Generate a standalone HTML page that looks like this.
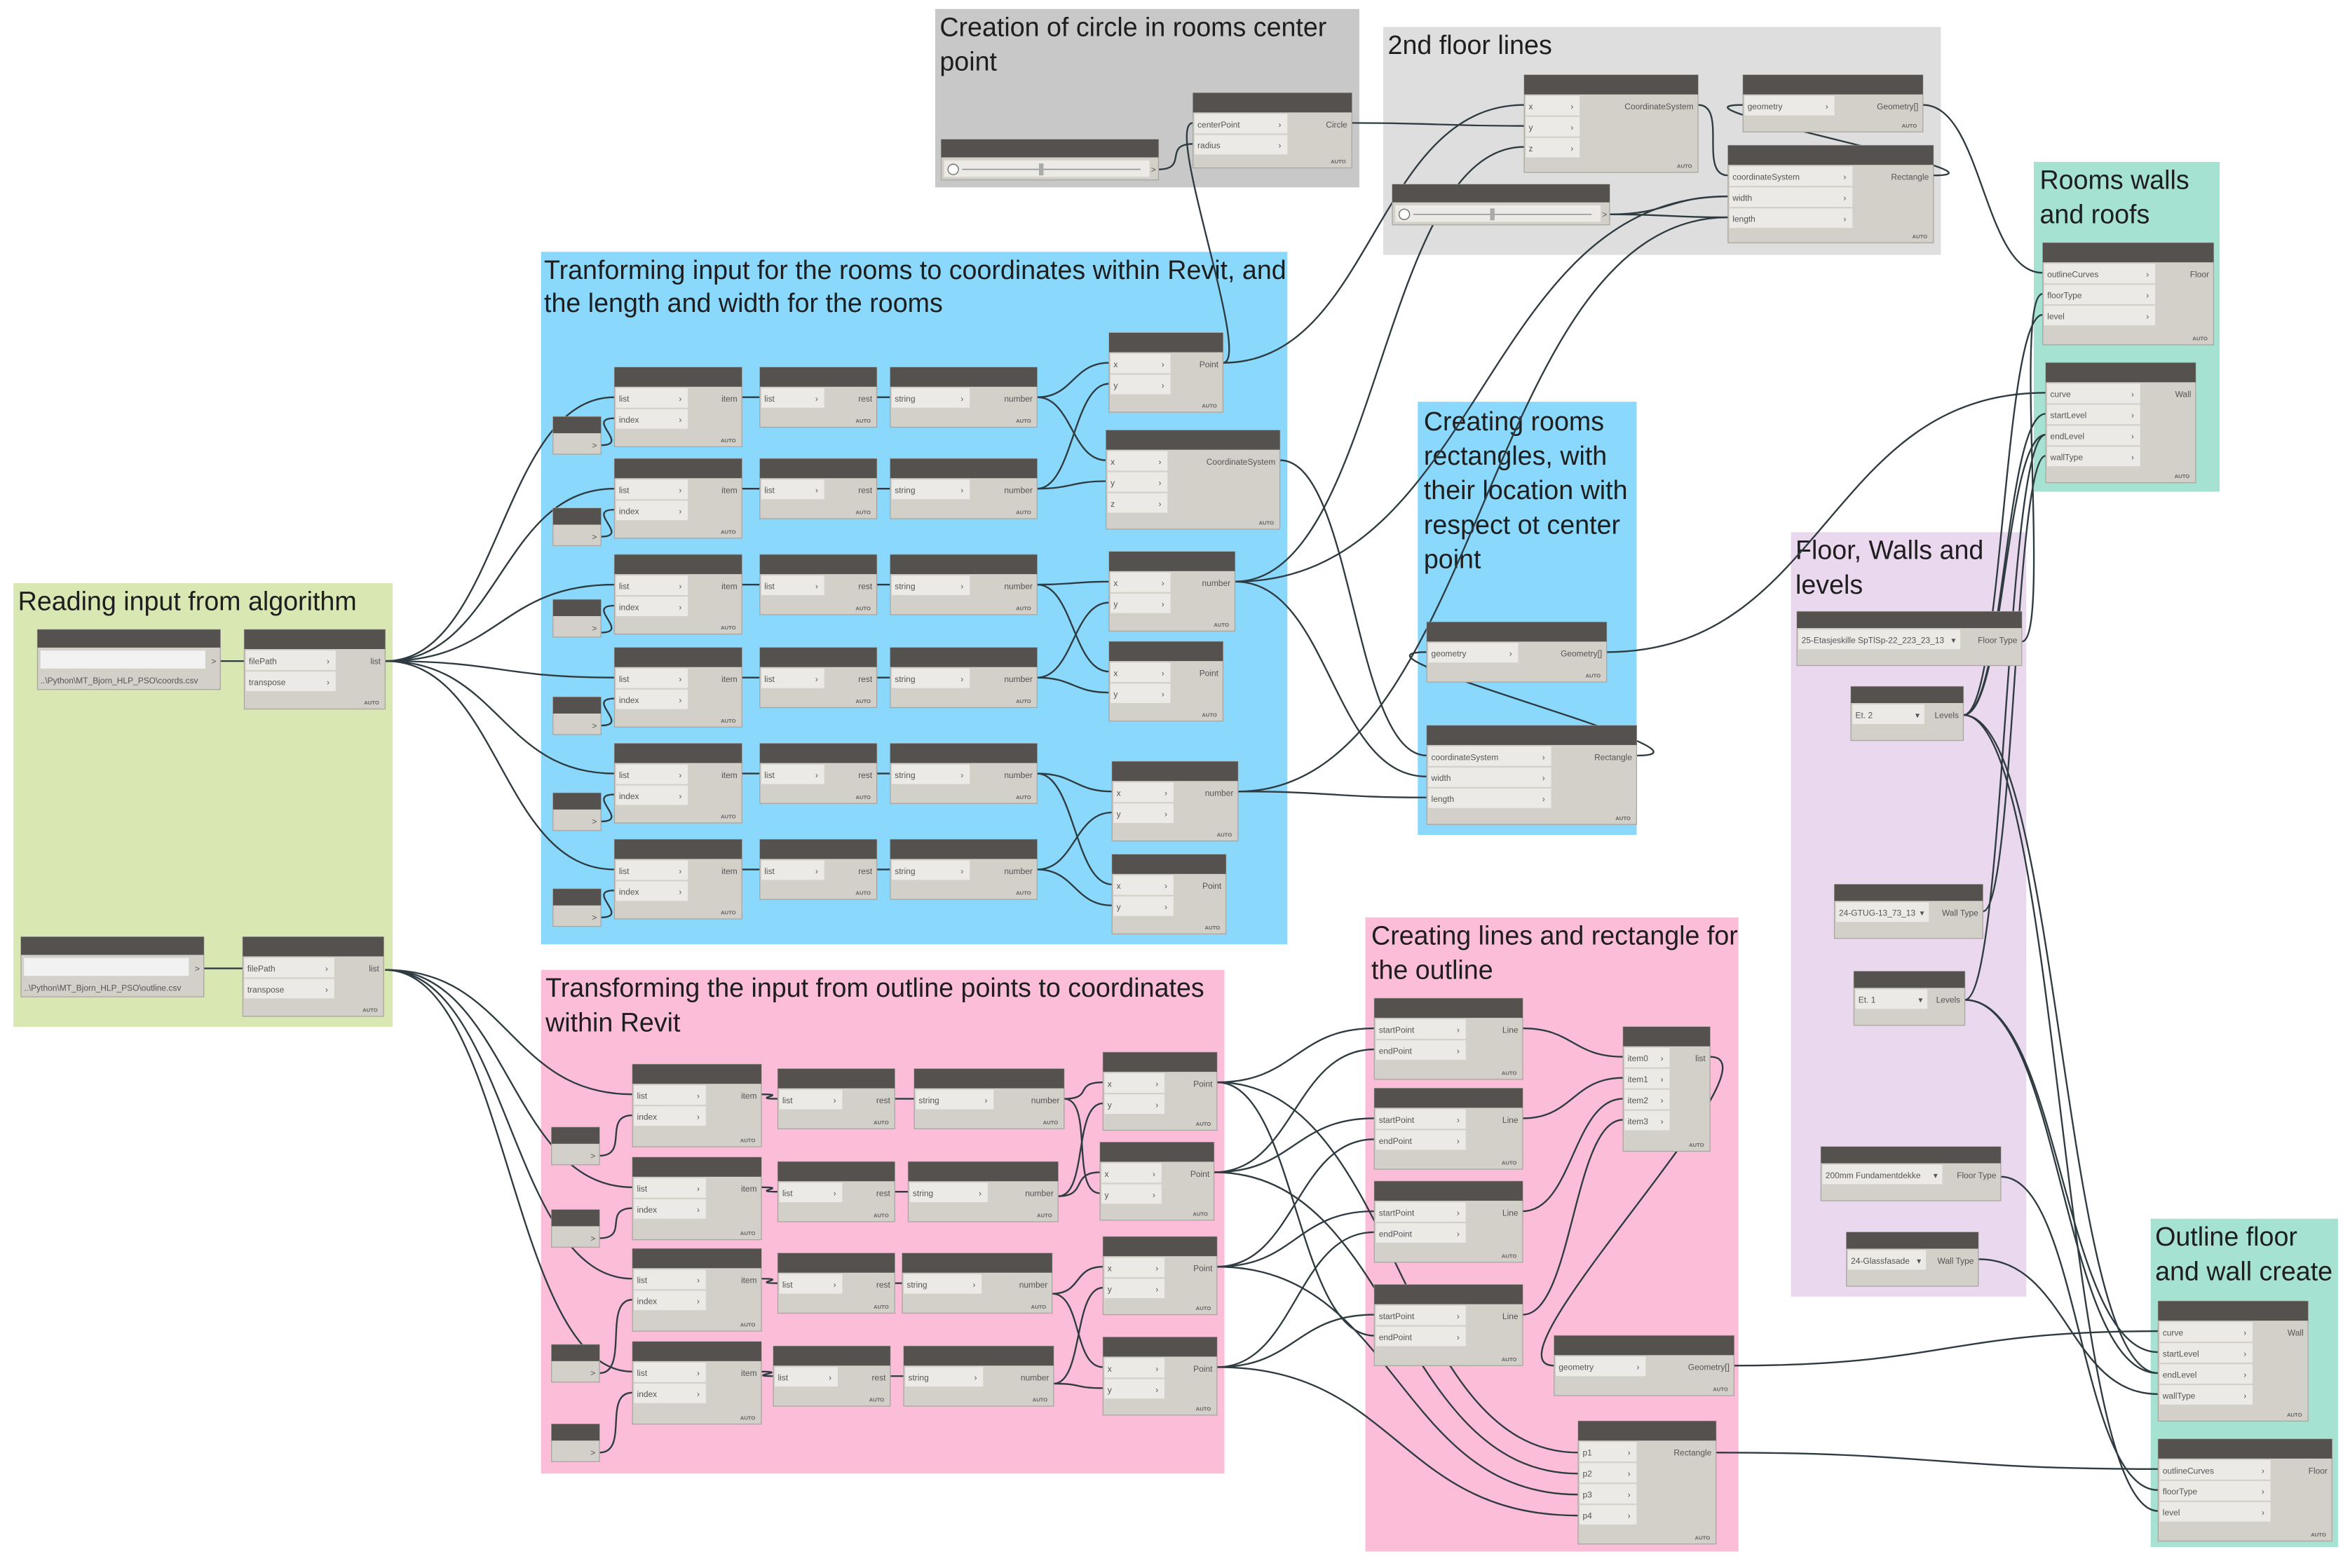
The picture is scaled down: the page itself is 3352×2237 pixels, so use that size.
<!DOCTYPE html>
<html><head><meta charset="utf-8">
<style>
html,body{margin:0;padding:0;background:#fff;}
svg{display:block}
.gt{font-family:"Liberation Sans",sans-serif;font-size:17.6px;fill:#1e1e1e}
.nt{font-family:"Liberation Sans",sans-serif;font-size:5.6px;fill:#555}
.at{font-family:"Liberation Sans",sans-serif;font-size:3.6px;fill:#666;font-weight:bold}
</style></head><body>
<svg id="s" width="3352" height="2237" viewBox="0 0 1568 1046" preserveAspectRatio="none" xmlns="http://www.w3.org/2000/svg">
<rect width="1568" height="1046" fill="#fff"/>
<g id="groups">
<rect x="624" y="6" width="283" height="119" fill="#c8c8c8"/>
<text class="gt" x="627" y="24">Creation of circle in rooms center</text>
<text class="gt" x="627" y="47">point</text>
<rect x="923" y="18" width="372" height="152" fill="#dedede"/>
<text class="gt" x="926" y="36">2nd floor lines</text>
<rect x="361" y="168" width="498" height="462" fill="#8ad8fb"/>
<text class="gt" x="363" y="186">Tranforming input for the rooms to coordinates within Revit, and</text>
<text class="gt" x="363" y="208">the length and width for the rooms</text>
<rect x="946" y="268" width="146" height="289" fill="#8ad8fb"/>
<text class="gt" x="950" y="287">Creating rooms</text>
<text class="gt" x="950" y="310">rectangles, with</text>
<text class="gt" x="950" y="333">their location with</text>
<text class="gt" x="950" y="356">respect ot center</text>
<text class="gt" x="950" y="379">point</text>
<rect x="1357" y="108" width="124" height="220" fill="#a5e2d1"/>
<text class="gt" x="1361" y="126">Rooms walls</text>
<text class="gt" x="1361" y="149">and roofs</text>
<rect x="1195" y="355" width="157" height="510" fill="#ead8ee"/>
<text class="gt" x="1198" y="373">Floor, Walls and</text>
<text class="gt" x="1198" y="396">levels</text>
<rect x="9" y="389" width="253" height="296" fill="#d9e7b2"/>
<text class="gt" x="12" y="407">Reading input from algorithm</text>
<rect x="361" y="647" width="456" height="336" fill="#fbbdd7"/>
<text class="gt" x="364" y="665">Transforming the input from outline points to coordinates</text>
<text class="gt" x="364" y="688">within Revit</text>
<rect x="911" y="612" width="249" height="423" fill="#fbbdd7"/>
<text class="gt" x="915" y="630">Creating lines and rectangle for</text>
<text class="gt" x="915" y="653">the outline</text>
<rect x="1435" y="813" width="125" height="219" fill="#a5e2d1"/>
<text class="gt" x="1438" y="831">Outline floor</text>
<text class="gt" x="1438" y="854">and wall create</text>
</g>
<g id="wires" fill="none" stroke="#2e3b40" stroke-width="1.1"></g>
<g id="nodes"></g>
</svg>
<script>
var NS="http://www.w3.org/2000/svg";
var W=document.getElementById('wires'),G=document.getElementById('nodes');
function el(p,t,a,txt){var e=document.createElementNS(NS,t);for(var k in a)e.setAttribute(k,a[k]);if(txt!==undefined)e.textContent=txt;p.appendChild(e);return e;}
function node(x,y,w,h,ins,out,pw){
 pw=pw||w*0.55;
 el(G,'rect',{x:x,y:y,width:w,height:h,fill:'#d3cfc9',stroke:'#a9a6a1','stroke-width':0.6});
 el(G,'rect',{x:x,y:y,width:w,height:13,fill:'#54514e'});
 for(var i=0;i<ins.length;i++){var yy=y+14+i*14;
  el(G,'rect',{x:x+1,y:yy,width:pw,height:13,fill:'#eceae6'});
  el(G,'text',{x:x+3,y:yy+9,class:'nt'},ins[i]);
  el(G,'text',{x:x+pw-5,y:yy+9,class:'nt'},'›');}
 if(out){el(G,'text',{x:x+w-3,y:y+23,class:'nt','text-anchor':'end'},out);}
 el(G,'text',{x:x+w-4,y:y+h-3,class:'at','text-anchor':'end'},'AUTO');
}
function small(x,y){el(G,'rect',{x:x,y:y,width:32,height:25,fill:'#d3cfc9',stroke:'#a9a6a1','stroke-width':0.6});
 el(G,'rect',{x:x,y:y,width:32,height:11,fill:'#54514e'});el(G,'text',{x:x+26,y:y+21,class:'nt'},'>');}
function slider(x,y,w){el(G,'rect',{x:x,y:y,width:w,height:27,fill:'#d3cfc9',stroke:'#a9a6a1','stroke-width':0.6});
 el(G,'rect',{x:x,y:y,width:w,height:12,fill:'#54514e'});
 el(G,'rect',{x:x+2,y:y+14,width:w-8,height:11,fill:'#eceae6'});
 el(G,'circle',{cx:x+8,cy:y+20,r:3.5,fill:'#fff',stroke:'#666','stroke-width':0.6});
 el(G,'line',{x1:x+14,y1:y+20,x2:x+w-12,y2:y+20,stroke:'#999','stroke-width':0.8});
 el(G,'rect',{x:x+w*0.45,y:y+16,width:3,height:8,fill:'#aaa'});
 el(G,'text',{x:x+w-5,y:y+22,class:'nt'},'>');}
function drop(x,y,w,val,out,pw){el(G,'rect',{x:x,y:y,width:w,height:36,fill:'#d3cfc9',stroke:'#a9a6a1','stroke-width':0.6});
 el(G,'rect',{x:x,y:y,width:w,height:11,fill:'#54514e'});
 el(G,'rect',{x:x+1,y:y+12,width:pw,height:13,fill:'#eceae6'});
 el(G,'text',{x:x+3,y:y+21,class:'nt','font-size':'5px',fill:'#333'},val);
 el(G,'text',{x:x+pw-5,y:y+21,class:'nt'},'▾');
 el(G,'text',{x:x+w-3,y:y+21,class:'nt','text-anchor':'end'},out);}
function filen(x,y,w,path){el(G,'rect',{x:x,y:y,width:w,height:40,fill:'#d3cfc9',stroke:'#a9a6a1','stroke-width':0.6});
 el(G,'rect',{x:x,y:y,width:w,height:12,fill:'#54514e'});
 el(G,'rect',{x:x+2,y:y+14,width:w-12,height:12,fill:'#f2f2f2'});
 el(G,'text',{x:x+w-6,y:y+23,class:'nt'},'>');
 el(G,'text',{x:x+2,y:y+36,class:'nt','font-size':'4.6px',fill:'#333'},path);}
function wire(a,b,c,d){var dx=Math.max(20,Math.abs(c-a)*0.5);
 el(W,'path',{d:'M'+a+','+b+' C'+(a+dx)+','+b+' '+(c-dx)+','+d+' '+c+','+d});}

filen(25,420,122,'..\\Python\\MT_Bjorn_HLP_PSO\\coords.csv');
node(163,420,94,53,['filePath','transpose'],'list',60);
filen(14,625,122,'..\\Python\\MT_Bjorn_HLP_PSO\\outline.csv');
node(162,625,94,53,['filePath','transpose'],'list',60);
wire(147,441,163,441);wire(136,646,162,646);

var by=[245,306,370,432,496,560];
by.forEach(function(y,i){
 node(410,y,85,53,['list','index'],'item',48);
 small(369,y+33-(i==2?3:0));
 node(507,y,78,40,['list'],'rest',42);
 node(594,y,98,40,['string'],'number',52);
 wire(257,441,410,y+20);wire(401,y+52,410,y+34);
 wire(495,y+20,507,y+20);wire(585,y+20,594,y+20);
});
node(740,222,76,53,['x','y'],'Point',40);
node(738,287,116,66,['x','y','z'],'CoordinateSystem',40);
node(740,368,84,53,['x','y'],'number',40);
node(740,428,76,53,['x','y'],'Point',40);
node(742,508,84,53,['x','y'],'number',40);
node(742,570,76,53,['x','y'],'Point',40);
wire(692,265,740,242);wire(692,265,738,307);
wire(692,326,740,256);wire(692,326,738,321);
wire(692,390,740,388);wire(692,390,740,448);
wire(692,452,740,402);wire(692,452,740,462);
wire(692,516,742,528);wire(692,516,742,590);
wire(692,580,742,542);wire(692,580,742,604);

slider(628,93,145);
node(796,62,106,50,['centerPoint','radius'],'Circle',62);
wire(773,113,796,96);wire(816,242,796,82);
node(1017,50,116,65,['x','y','z'],'CoordinateSystem',36);
slider(929,123,145);
node(1163,50,120,38,['geometry'],'Geometry[]',60);
node(1153,97,137,65,['coordinateSystem','width','length'],'Rectangle',82);
wire(816,242,1017,70);wire(902,82,1017,84);wire(824,388,1017,98);
wire(1074,143,1153,131);wire(1074,143,1153,145);
wire(1133,70,1153,117);wire(1290,117,1163,70);
wire(1283,70,1363,182);

node(952,415,120,40,['geometry'],'Geometry[]',60);
node(952,484,140,66,['coordinateSystem','width','length'],'Rectangle',82);
wire(854,307,952,504);wire(824,388,952,518);wire(826,528,952,532);wire(826,528,1153,145);
wire(824,388,1153,131);
wire(1092,504,952,435);
wire(1072,435,1365,262);

node(1363,162,114,68,['outlineCurves','floorType','level'],'Floor',74);
node(1365,242,100,80,['curve','startLevel','endLevel','wallType'],'Wall',62);

drop(1199,408,150,'25-Etasjeskille SpTlSp-22_223_23_13','Floor Type',108);
drop(1235,458,75,'Et. 2','Levels',48);
drop(1224,590,99,'24-GTUG-13_73_13','Wall Type',62);
drop(1237,648,74,'Et. 1','Levels',48);
drop(1215,765,120,'200mm Fundamentdekke','Floor Type',80);
drop(1232,822,88,'24-Glassfasade','Wall Type',52);
wire(1349,428,1363,196);
wire(1310,477,1363,210);wire(1310,477,1365,276);wire(1310,477,1365,290);
wire(1323,608,1365,304);
wire(1310,477,1440,916);wire(1310,477,1440,1008);
wire(1311,667,1440,902);wire(1311,667,1440,916);wire(1311,667,1365,290);
wire(1335,785,1440,994);wire(1320,840,1440,930);

node(1440,868,100,80,['curve','startLevel','endLevel','wallType'],'Wall',62);
node(1440,960,116,68,['outlineCurves','floorType','level'],'Floor',74);

var py=[710,772,833,895],sy=[752,807,897,950];
py.forEach(function(y,i){
 node(422,y,86,55,['list','index'],'item',48);
 small(368,sy[i]);
 var bx=[519,519,519,516][i],cx=[610,606,602,603][i];
 node(bx,y+3,78,40,['list'],'rest',42);
 node(cx,y+3,100,40,['string'],'number',52);
 wire(257,647,422,y+20);wire(400,sy[i]+19,422,y+34);
 wire(508,y+20,bx,y+23);wire(bx+78,y+23,cx,y+23);
});
var pts=[[736,702],[734,762],[736,825],[736,892]];
pts.forEach(function(p){node(p[0],p[1],76,52,['x','y'],'Point',40);});
wire(710,733,736,722);wire(710,733,734,796);wire(706,798,736,736);wire(706,798,734,782);
wire(702,863,736,845);wire(702,863,736,912);wire(703,923,736,859);wire(703,923,736,926);
var ly=[666,726,788,857];
ly.forEach(function(y,i){node(917,y,99,54,['startPoint','endPoint'],'Line',60);
 wire(1016,y+20,1083,705+i*14);});
var po=[[812,722],[810,782],[812,845],[812,912]];
var lin=[[686,700],[746,760],[808,822],[877,891]];
for(var i=0;i<4;i++){wire(po[i][0],po[i][1],917,lin[i][0]);wire(po[i][0],po[i][1],917,lin[(i+3)%4][1]);
 wire(po[i][0],po[i][1],1053,969+i*14);}
node(1083,685,58,83,['item0','item1','item2','item3'],'list',30);
node(1037,891,120,40,['geometry'],'Geometry[]',60);
node(1053,948,92,82,['p1','p2','p3','p4'],'Rectangle',38);
wire(1141,705,1037,911);
wire(1157,911,1440,888);
wire(1145,969,1440,980);
</script>
</body></html>
